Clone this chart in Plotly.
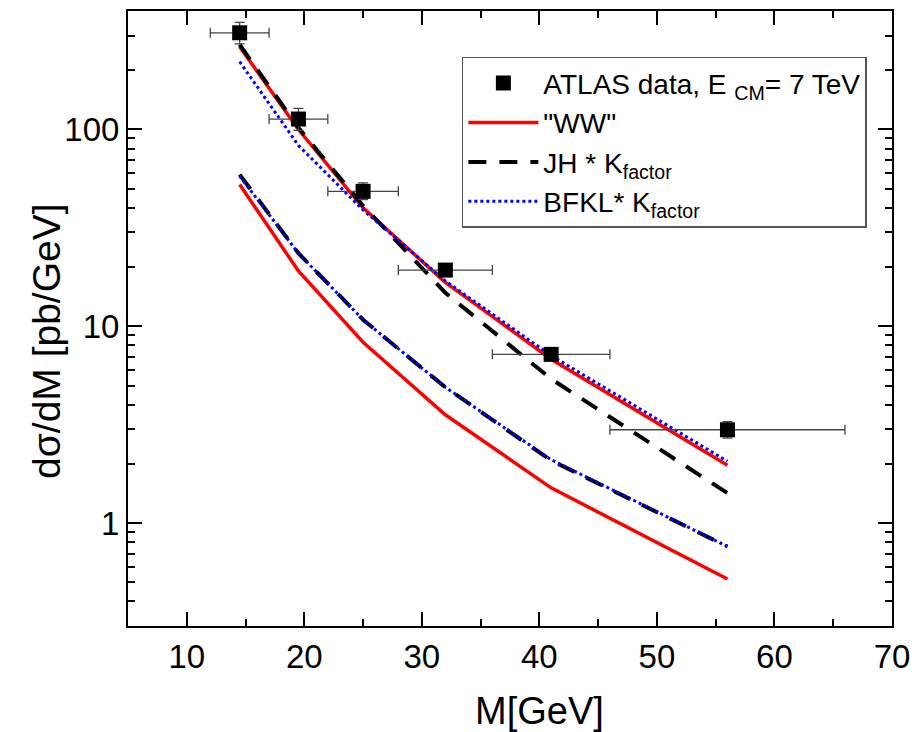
import numpy as np
import plotly.graph_objects as go

# ---------------- data ----------------
M_data = [14.5, 19.5, 25, 32, 41, 56]
M_err = [2.5, 2.5, 3, 4, 5, 10]
sig_data = [310, 113, 48.5, 19.3, 7.2, 2.98]
sig_err_plus = [40, 15, 5, 1.2, 0.5, 0.3]
sig_err_minus = [38, 14, 4.5, 1.1, 0.45, 0.28]

M_curve = [14.5, 19.5, 25, 32, 41, 56]
ww_upper = [263, 100, 40, 16.7, 6.8, 1.97]
jh_upper = [270, 102, 41, 14.8, 5.4, 1.42]
bfkl_upper = [221, 83, 39, 17.0, 7.1, 2.06]

ww_lower = [52.5, 19.1, 8.3, 3.55, 1.51, 0.52]
jh_lower = [59, 23.5, 10.8, 4.9, 2.08, 0.76]
bfkl_lower = [58, 23.5, 10.8, 4.9, 2.1, 0.76]

x_range = [5, 70]
y_range = [0.3, 400]

FONT = "Liberation Sans, Arial, sans-serif"
RED = "#ff0000"
BLUE = "#0000ff"

fig = go.Figure()

fig.add_trace(go.Scatter(x=M_curve, y=ww_lower, mode="lines",
                         line=dict(color=RED, width=3.5), showlegend=False))
fig.add_trace(go.Scatter(x=M_curve, y=jh_lower, mode="lines",
                         line=dict(color="black", width=4, dash="18px,13px"), showlegend=False))
fig.add_trace(go.Scatter(x=M_curve, y=bfkl_lower, mode="lines",
                         line=dict(color=BLUE, width=3, dash="3px,3px"), showlegend=False))

fig.add_trace(go.Scatter(x=M_curve, y=ww_upper, mode="lines", name='"WW"',
                         line=dict(color=RED, width=3.5), legendrank=2))
fig.add_trace(go.Scatter(x=M_curve, y=jh_upper, mode="lines", name="JH * K<sub>factor</sub>",
                         line=dict(color="black", width=4, dash="18px,13px"), legendrank=3))
fig.add_trace(go.Scatter(x=M_curve, y=bfkl_upper, mode="lines", name="BFKL* K<sub>factor</sub>",
                         line=dict(color=BLUE, width=3, dash="3px,3px"), legendrank=4))

fig.add_trace(go.Scatter(
    x=M_data, y=sig_data, mode="markers",
    name="ATLAS data, E <sub>CM</sub>= 7 TeV",
    marker=dict(symbol="square", size=15, color="black"),
    error_x=dict(type="data", array=M_err, color="#444444", thickness=1.3, width=5),
    error_y=dict(type="data", array=sig_err_plus, arrayminus=sig_err_minus,
                 color="#444444", thickness=1.3, width=5),
    legendrank=1))

# invisible copy of the data on the overlay axes that carry the short (minor) ticks
fig.add_trace(go.Scatter(x=M_data, y=sig_data, xaxis="x2", yaxis="y2", mode="markers",
                         marker=dict(opacity=0), showlegend=False, hoverinfo="skip"))

common = dict(showline=True, linewidth=2, linecolor="black", mirror="ticks",
              ticks="inside", tickwidth=2, tickcolor="black",
              showgrid=False, zeroline=False)

fig.update_layout(
    xaxis=dict(range=x_range, dtick=10, ticklen=14,
               tickfont=dict(family=FONT, size=33, color="black"), **common),
    yaxis=dict(type="log", range=[np.log10(y_range[0]), np.log10(y_range[1])], dtick=1,
               ticklen=14, tickfont=dict(family=FONT, size=33, color="black"), **common),
    xaxis2=dict(range=x_range, dtick=5, ticklen=7, overlaying="x",
                anchor="y2", side="bottom", showticklabels=False, **common),
    yaxis2=dict(type="log", range=[np.log10(y_range[0]), np.log10(y_range[1])], dtick="D1",
                ticklen=7, overlaying="y", anchor="x2", side="left",
                showticklabels=False, **common),
)

fig.add_annotation(text="dσ/dM [pb/GeV]", textangle=-90, xref="paper", yref="paper",
                   x=-0.106, y=0.4635, showarrow=False, xanchor="center", yanchor="middle",
                   font=dict(family=FONT, size=39, color="black"))
fig.add_annotation(text="M[GeV]", xref="paper", yref="paper",
                   x=0.539, y=-0.138, showarrow=False, xanchor="center", yanchor="middle",
                   font=dict(family=FONT, size=38, color="black"))

fig.update_layout(
    width=919, height=732,
    margin=dict(l=128, r=25, t=9, b=106),
    paper_bgcolor="white", plot_bgcolor="white",
    font=dict(family=FONT, color="black"),
    legend=dict(x=0.437, y=0.9254, xanchor="left", yanchor="top",
                bgcolor="white", bordercolor="#555555", borderwidth=1.5,
                font=dict(family=FONT, size=28, color="black"),
                itemwidth=70, tracegroupgap=0),
)

fig.write_html("out.html")
